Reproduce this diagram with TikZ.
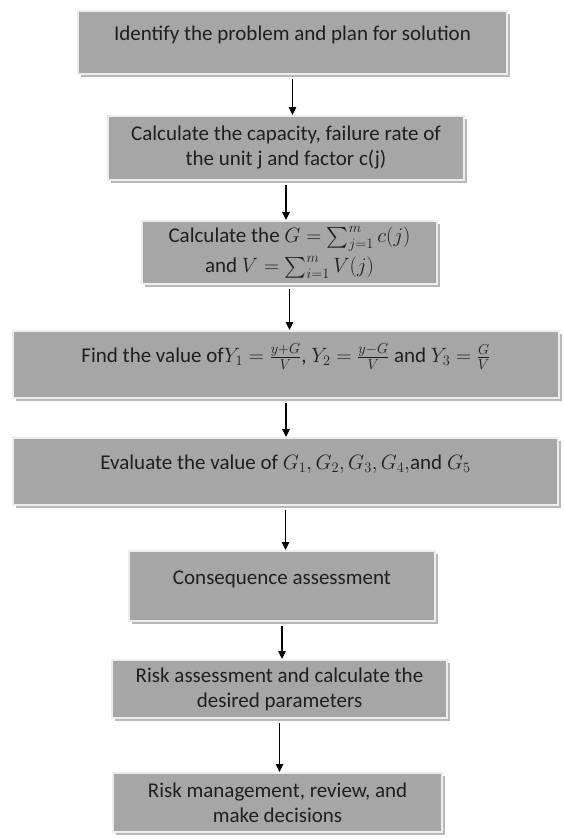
\documentclass[tikz,border=0pt]{standalone}
\usepackage{amsmath}
\usepackage{fontspec}
\setmainfont{Carlito}
\usepackage{tikz}
\usetikzlibrary{arrows.meta, shadows}
\definecolor{boxgrey}{rgb}{0.65,0.65,0.65}
\definecolor{framegrey}{rgb}{0.93,0.93,0.93}
\definecolor{shadegrey}{rgb}{0.72,0.72,0.72}
\definecolor{inkgrey}{rgb}{0.12,0.12,0.12}

\begin{document}
\begin{tikzpicture}[
  x=1pt, y=-1pt,
  stage/.style={draw=framegrey, line width=2pt, fill=boxgrey, text=inkgrey,
                font=\fontsize{21}{25}\selectfont, align=center, inner sep=0pt,
                drop shadow={shadow xshift=2.5pt, shadow yshift=-3pt,
                             fill=shadegrey, opacity=1}},
  lone/.style={text height=15pt, text depth=19pt},
  arr/.style={draw=black, line width=1.2pt,
              -{Triangle[length=8pt,width=7.5pt]}, shorten <=4pt}
]
  \useasboundingbox (0,0) rectangle (564,839);

  \node[stage, lone, minimum width=429pt, minimum height=63pt] (ident) at (292.5,42.5)
    {Identify the problem and plan for solution};
  \node[stage, minimum width=356pt, minimum height=64pt] (capac) at (286,148)
    {Calculate the capacity, failure rate of\\ the unit j and factor c(j)};
  \node[stage, minimum width=295pt, minimum height=63pt] (sums) at (289.5,252.5)
    {Calculate the $G=\sum_{j=1}^{m} c(j)$\\[5pt] and $V=\sum_{i=1}^{m} V(j)$};
  \node[stage, lone, minimum width=546pt, minimum height=67pt] (ratios) at (286,364.5)
    {Find the value of$Y_1=\frac{y+G}{V}$, $Y_2=\frac{y-G}{V}$ and $Y_3=\frac{G}{V}$};
  \node[stage, lone, minimum width=545pt, minimum height=67pt] (evalg) at (285.5,471.5)
    {Evaluate the value of $G_1,G_2,G_3,G_4,$and $G_5$};
  \node[stage, lone, minimum width=306pt, minimum height=70pt] (conseq) at (282,586)
    {Consequence assessment};
  \node[stage, minimum width=335pt, minimum height=58pt] (riskas) at (279.5,689)
    {Risk assessment and calculate the\\ desired parameters};
  \node[stage, minimum width=329pt, minimum height=59pt] (riskman) at (277.5,802.5)
    {Risk management, review, and\\ make decisions};

  % flow from one stage to the next
  \foreach \a/\b in {ident/capac, capac/sums, sums/ratios, ratios/evalg,
                     evalg/conseq, conseq/riskas, riskas/riskman}
    \draw[arr] (\a.south) -- (\a.south |- \b.north);
\end{tikzpicture}
\end{document}
